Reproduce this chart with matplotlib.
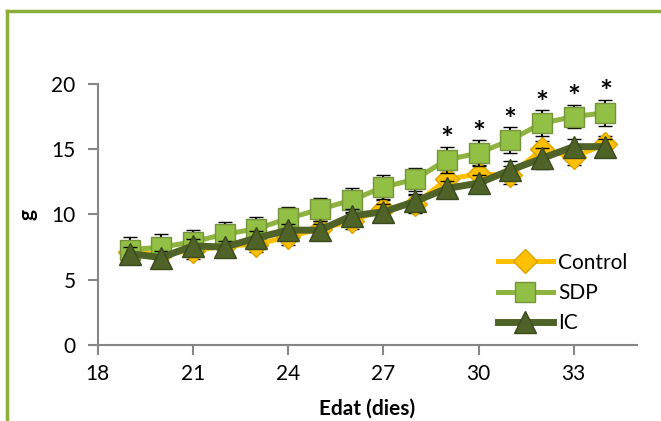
import matplotlib
matplotlib.use("Agg")
import matplotlib.pyplot as plt
from matplotlib.lines import Line2D

plt.rcParams['font.family'] = ['Lato', 'DejaVu Sans']

# data
days = [19, 20, 21, 22, 23, 24, 25, 26, 27, 28, 29, 30, 31, 32, 33, 34]
control = [7.1, 7.0, 7.2, 7.6, 7.7, 8.3, 8.9, 9.5, 10.4, 10.8, 12.7, 13.1, 13.0, 15.0, 14.4, 15.4]
control_err = [0.6, 0.6, 0.6, 0.6, 0.6, 0.6, 0.6, 0.6, 0.7, 0.7, 0.7, 0.7, 0.7, 0.6, 0.6, 0.6]
sdp = [7.3, 7.5, 7.9, 8.5, 8.9, 9.7, 10.4, 11.1, 12.1, 12.7, 14.2, 14.7, 15.7, 17.0, 17.5, 17.8]
sdp_err = [1.0, 1.0, 0.9, 0.9, 0.9, 0.9, 0.9, 0.9, 0.9, 0.9, 1.0, 1.0, 1.0, 1.0, 0.9, 1.0]
ic = [7.0, 6.7, 7.6, 7.5, 8.2, 8.8, 8.8, 9.9, 10.2, 11.0, 12.0, 12.4, 13.4, 14.3, 15.2, 15.2]
ic_err = [0.5, 0.5, 0.5, 0.5, 0.5, 0.5, 0.5, 0.5, 0.6, 0.6, 0.6, 0.6, 0.7, 0.8, 0.6, 0.6]
signif_days = [29, 30, 31, 32, 33, 34]

fig = plt.figure(figsize=(6.61, 4.21), dpi=100)
ax = fig.add_axes([0.148, 0.1805, 0.816, 0.62])

ax.errorbar(days, control, yerr=control_err, color='#FFC000', lw=3.6,
            marker='D', ms=12, mfc='#FFC000', mec='#D9A300', mew=1,
            ecolor='black', elinewidth=1.5, capsize=5, capthick=2.5,
            label='Control', zorder=2)
ax.errorbar(days, sdp, yerr=sdp_err, color='#8DB43E', lw=3.6,
            marker='s', ms=15, mfc='#92C044', mec='#76923C', mew=1,
            ecolor='black', elinewidth=1.5, capsize=5, capthick=2.5,
            label='SDP', zorder=3)
ax.errorbar(days, ic, yerr=ic_err, color='#4F6228', lw=5,
            marker='^', ms=16, mfc='#4F6228', mec='#3A4A1C', mew=1,
            ecolor='black', elinewidth=1.5, capsize=5, capthick=2.5,
            label='IC', zorder=4)

for d in signif_days:
    i = days.index(d)
    ax.text(d, sdp[i] + sdp_err[i] - 0.2, '*', ha='center', va='baseline',
            fontsize=22, fontweight='bold', color='black')

ax.set_xlim(18, 35)
ax.set_ylim(0, 20)
ax.set_xticks([18, 21, 24, 27, 30, 33])
ax.set_yticks([0, 5, 10, 15, 20])
ax.tick_params(axis='both', labelsize=15, length=7, width=1.5, color='#868686')
ax.tick_params(axis='x', pad=7)
ax.tick_params(axis='y', pad=9)
for s in ['top', 'right']:
    ax.spines[s].set_visible(False)
for s in ['left', 'bottom']:
    ax.spines[s].set_color('#868686')
    ax.spines[s].set_linewidth(1.5)

ax.set_xlabel('Edat (dies)', fontsize=15, fontweight='bold', labelpad=10)
ax.set_ylabel('g', fontsize=15, fontweight='bold', labelpad=10)

handles = [
    Line2D([], [], color='#FFC000', lw=3.6, marker='D', ms=12, mfc='#FFC000', mec='#D9A300'),
    Line2D([], [], color='#8DB43E', lw=3.6, marker='s', ms=15, mfc='#92C044', mec='#76923C'),
    Line2D([], [], color='#4F6228', lw=5, marker='^', ms=16, mfc='#4F6228', mec='#3A4A1C'),
]
ax.legend(handles, ['Control', 'SDP', 'IC'], loc='upper left',
          bbox_to_anchor=(0.753, 0.40), bbox_transform=fig.transFigure,
          frameon=False, fontsize=15, handlelength=2.65, handletextpad=0.25,
          labelspacing=0.5, borderpad=0, borderaxespad=0)

# green frame around the chart
fig.add_artist(Line2D([0.011, 0.011], [0, 0.974], transform=fig.transFigure, color='#8BAE3A', lw=2.5))
fig.add_artist(Line2D([0.011, 1.0], [0.974, 0.974], transform=fig.transFigure, color='#8BAE3A', lw=2.5))

fig.savefig('out.png', dpi=100, facecolor='white')
